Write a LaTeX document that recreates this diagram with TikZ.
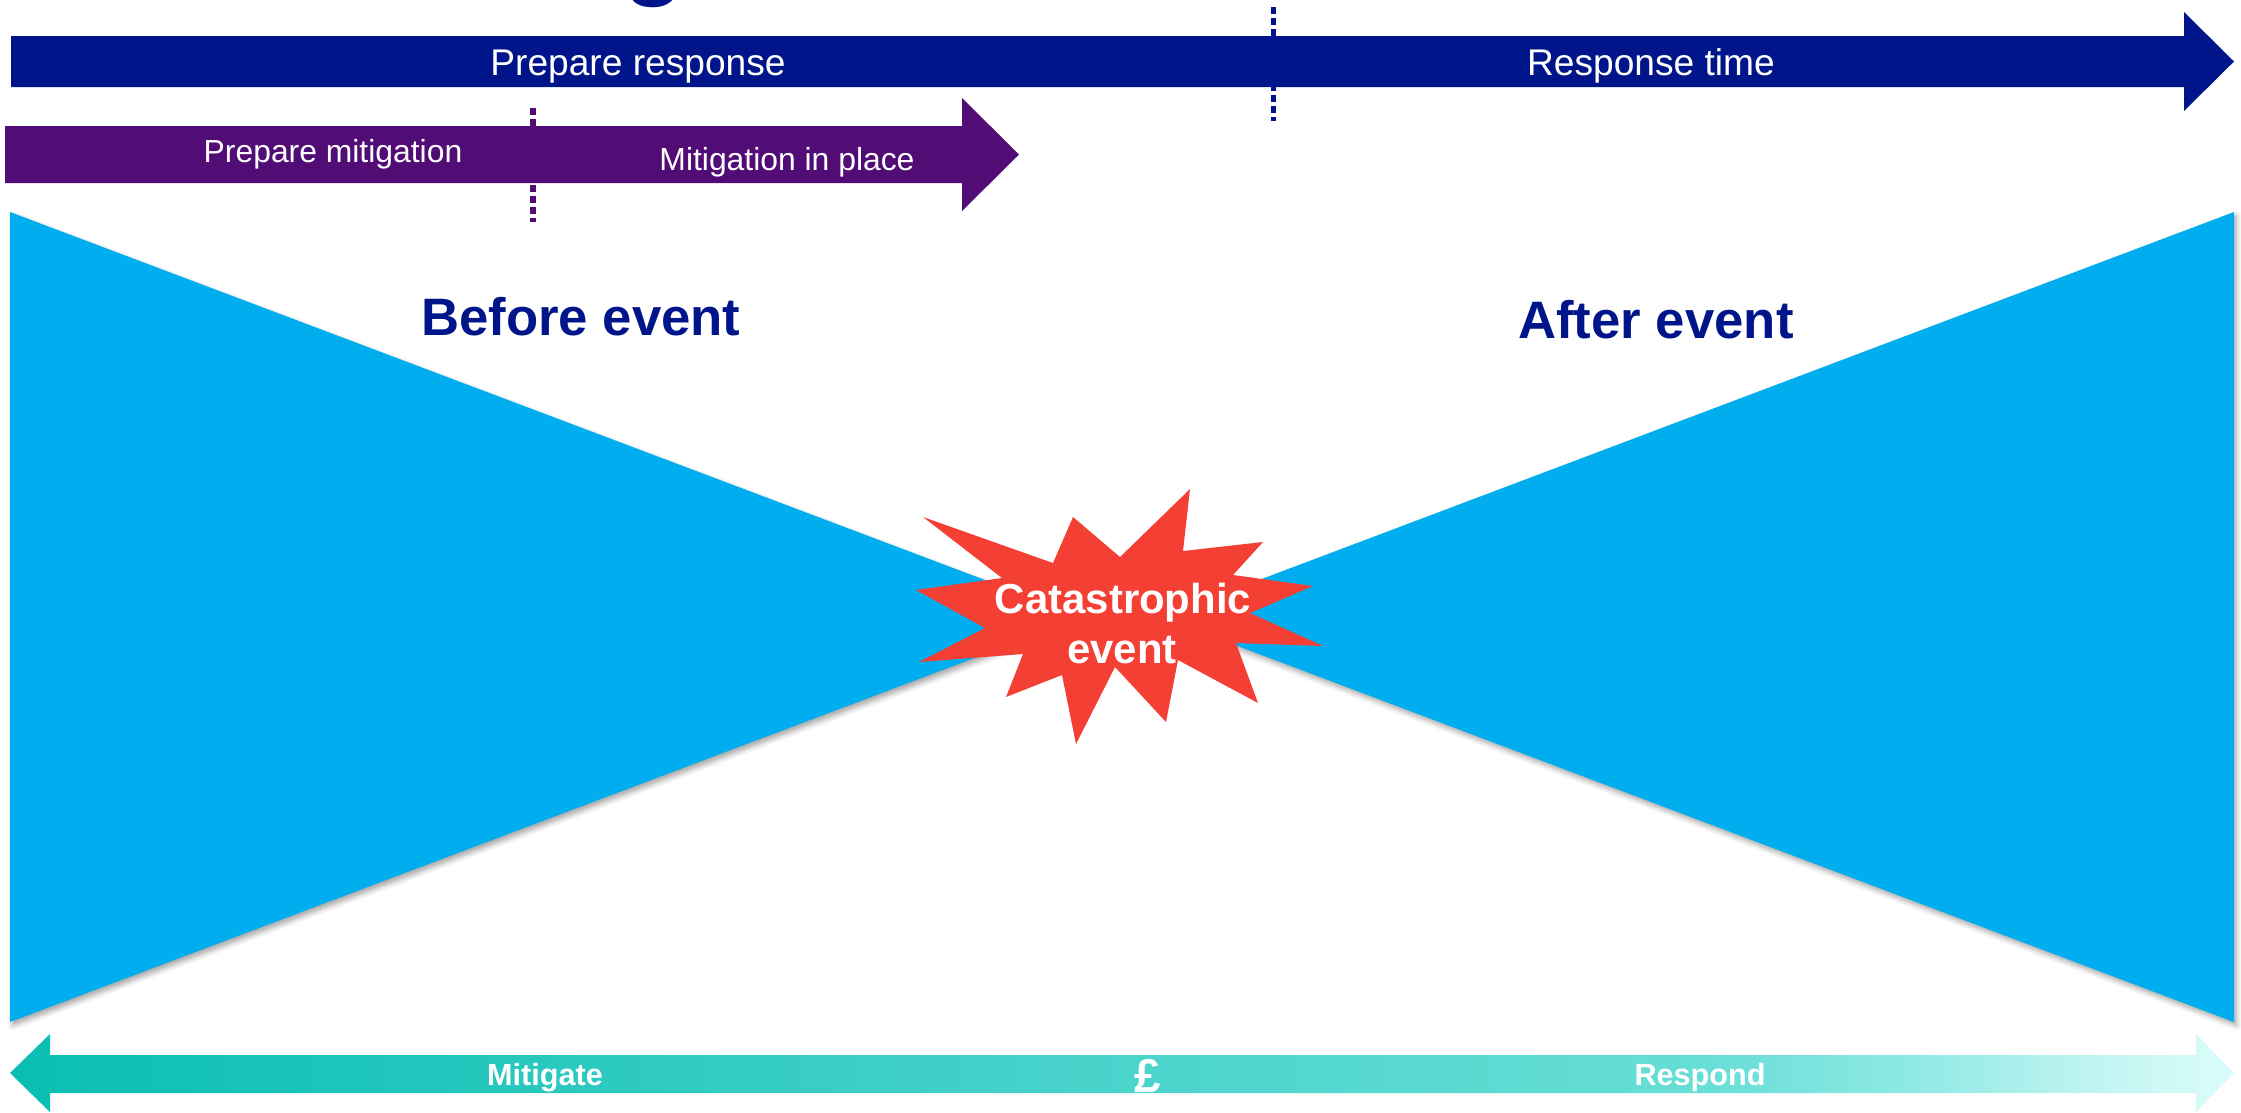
\documentclass[tikz,border=0pt]{standalone}
\usepackage{fontspec}
\setmainfont{Liberation Sans}
\usetikzlibrary{shadows.blur}

\definecolor{navy}{RGB}{0,21,137}
\definecolor{plum}{RGB}{81,12,118}
\definecolor{sky}{RGB}{0,174,239}
\definecolor{burst}{RGB}{244,63,52}

% teal band, lighter towards the right end
\pgfdeclarehorizontalshading{tealfade}{100bp}{
  rgb(0bp)=(0.04,0.745,0.70);
  rgb(25bp)=(0.04,0.745,0.70);
  rgb(50bp)=(0.29,0.83,0.80);
  rgb(63bp)=(0.40,0.87,0.84);
  rgb(67.5bp)=(0.55,0.91,0.89);
  rgb(72bp)=(0.76,0.96,0.95);
  rgb(75bp)=(0.86,0.99,0.98);
  rgb(100bp)=(0.86,0.99,0.98)}

\begin{document}
\begin{tikzpicture}[x=0.014cm, y=-0.014cm,
  toplabel/.style={text=white, anchor=base, inner sep=0pt, font=\fontsize{14.8}{17}\selectfont},
  midlabel/.style={text=white, anchor=base, inner sep=0pt, font=\fontsize{12.7}{15}\selectfont},
  sidelabel/.style={text=navy, anchor=base, inner sep=0pt, font=\bfseries\fontsize{21}{25}\selectfont},
  burstlabel/.style={text=white, anchor=base, inner sep=0pt, font=\bfseries\fontsize{16.7}{20}\selectfont},
  bandlabel/.style={text=white, anchor=base, inner sep=0pt, font=\bfseries\fontsize{12.2}{14}\selectfont},
  wing/.style={fill=sky, blur shadow={shadow xshift=1pt, shadow yshift=-1.5pt,
    shadow blur radius=2pt, shadow opacity=35}},
  tick/.style={line width=2pt, dash pattern=on 2.8pt off 1.6pt}]
\useasboundingbox (0,0) rectangle (2241,1112);
\pgfmathsetmacro\mid{1122}

% tail of the heading, mostly above the page
\node[text=navy, anchor=base, inner sep=0pt, font=\bfseries\fontsize{40}{48}\selectfont] (headg) at (654,-14) {g};

% time marks
\draw[navy, tick] (1273,7) -- (1273,121);
\draw[plum, tick] (533,108) -- (533,222);

% response bar
\fill[navy] (11,36) -- (2184,36) -- (2184,12) -- (2234,61.5) -- (2184,111) -- (2184,87) -- (11,87) -- cycle;
\node[toplabel] (prepresp) at (638,75) {Prepare response};
\node[toplabel] (resptime) at (1651,75) {Response time};

% mitigation bar
\fill[plum] (5,126) -- (962,126) -- (962,98) -- (1019,154.5) -- (962,211) -- (962,183) -- (5,183) -- cycle;
\node[midlabel] (prepmit) at (333,162) {Prepare mitigation};
\node[midlabel] (mitplace) at (787,170) {Mitigation in place};

% bow tie
\fill[wing] (10,212) -- (\mid-39,617) -- (10,1022) -- cycle;
\fill[wing] (2234,212) -- (\mid+39,617) -- (2234,1022) -- cycle;
\node[sidelabel] (before) at (581,335) {Before event};
\node[sidelabel] (after) at (1656,338) {After event};

% the event itself
\fill[burst] (923,517) -- (1053,563) -- (1073,517) -- (1120,557) -- (1190,489)
  -- (1183,551) -- (1263,542) -- (1233,575) -- (1313,586) -- (1250,613)
  -- (1323,646) -- (1236,643) -- (1258,703) -- (1178,660) -- (1166,722)
  -- (1115,667) -- (1076,744) -- (1062,675) -- (1006,697) -- (1023,654)
  -- (919,662) -- (985,628) -- (916,590) -- (1002,578) -- cycle;
\node[burstlabel] (catline) at (1123,613) {Catastrophic};
\node[burstlabel] (eventline) at (1122,663) {event};

% mitigate / respond band
\shade[shading=tealfade] (10,1073) -- (50,1034) -- (50,1055) -- (2196,1055) -- (2196,1034)
  -- (2234,1073) -- (2196,1112) -- (2196,1093) -- (50,1093) -- (50,1112) -- cycle;
\node[bandlabel] (mitigate) at (545,1085) {Mitigate};
\node[bandlabel] (respond) at (1700,1085) {Respond};
\node[text=white, anchor=base, inner sep=0pt, font=\bfseries\fontsize{18.9}{22}\selectfont] (pound) at (1148,1092) {£};
\end{tikzpicture}
\end{document}
